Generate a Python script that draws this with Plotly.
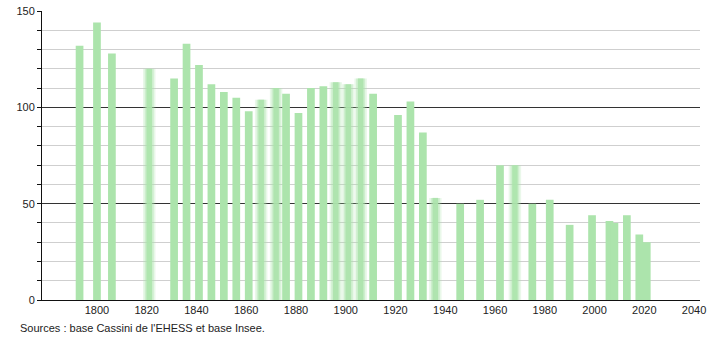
import plotly.graph_objects as go

years = [1793, 1800, 1806, 1821, 1831, 1836, 1841, 1846, 1851, 1856, 1861, 1866,
         1872, 1876, 1881, 1886, 1891, 1896, 1901, 1906, 1911, 1921, 1926, 1931,
         1936, 1946, 1954, 1962, 1968, 1975, 1982, 1990, 1999, 2006, 2008, 2013,
         2018, 2021]
population = [132, 144, 128, 120, 115, 133, 122, 112, 108, 105, 98, 104,
              110, 107, 97, 110, 111, 113, 112, 115, 107, 96, 103, 87,
              53, 50, 52, 70, 70, 50, 52, 39, 44, 41, 40, 44,
              34, 30]
soft_years = [1821, 1866, 1872, 1896, 1901, 1906, 1936, 1968]
x_ticks = [1800, 1820, 1840, 1860, 1880, 1900, 1920, 1940, 1960, 1980, 2000, 2020, 2040]
y_ticks = [0, 50, 100, 150]
source_text = "Sources : base Cassini de l'EHESS et base Insee."

bar_color = "rgb(172,228,172)"

sharp_x = [y for y in years if y not in soft_years]
sharp_v = [v for y, v in zip(years, population) if y not in soft_years]
soft_x = [y for y in years if y in soft_years]
soft_v = [v for y, v in zip(years, population) if y in soft_years]

fig = go.Figure()
fig.add_trace(go.Bar(x=soft_x, y=soft_v, width=5.0, marker=dict(color=bar_color, line_width=0),
                     opacity=0.25, hoverinfo="skip"))
fig.add_trace(go.Bar(x=soft_x, y=soft_v, width=3.6, marker=dict(color=bar_color, line_width=0),
                     opacity=0.45, hoverinfo="skip"))
fig.add_trace(go.Bar(x=soft_x, y=soft_v, width=2.2, marker=dict(color=bar_color, line_width=0),
                     opacity=0.9))
fig.add_trace(go.Bar(x=sharp_x, y=sharp_v, width=3.1, marker=dict(color=bar_color, line_width=0)))

fig.update_layout(
    width=710, height=340,
    margin=dict(l=42, r=10, t=11, b=40, autoexpand=False),
    barmode="overlay",
    showlegend=False,
    plot_bgcolor="white", paper_bgcolor="white",
    font=dict(family="Liberation Sans, Arial, sans-serif", size=11, color="#222"),
    xaxis=dict(range=[1777.9, 2042.4], tickmode="array", tickvals=x_ticks,
               showgrid=False, showline=True, linecolor="#111", linewidth=1,
               ticks="", zeroline=False, automargin=False, tickfont=dict(size=11)),
    yaxis=dict(range=[0, 150], tickmode="array", tickvals=y_ticks,
               showgrid=True, gridcolor="#333", gridwidth=1,
               showline=True, linecolor="#111", linewidth=1,
               ticks="outside", ticklen=4, tickcolor="#111", zeroline=False,
               automargin=False,
               minor=dict(dtick=10, tick0=0, showgrid=True, gridcolor="#cfcfcf",
                          ticks="outside", ticklen=4, tickcolor="#111"),
               tickfont=dict(size=11)),
    annotations=[dict(text=source_text, x=(18 - 42) / (710 - 52), y=-(328 - 300) / 289,
                      xref="paper", yref="paper",
                      showarrow=False, xanchor="left", yanchor="middle",
                      font=dict(size=11, color="#222"))],
)

fig.write_html("out.html")
